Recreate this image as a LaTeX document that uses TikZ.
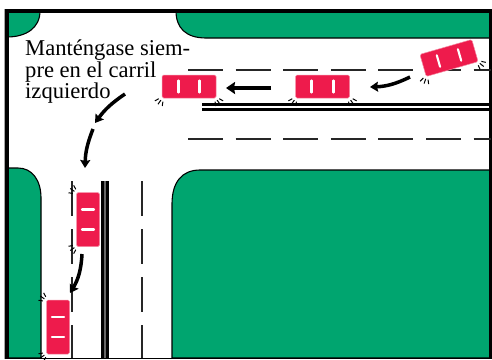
\documentclass[tikz,border=0pt]{standalone}
\usepackage{fontspec}
\setmainfont{Liberation Serif}
\usetikzlibrary{arrows.meta}
\definecolor{grass}{HTML}{00A56F}
\definecolor{carred}{HTML}{EE1B4C}
\tikzset{
  x=1pt,y=-1pt,
  grassy/.style={fill=grass,draw=black,line width=1.1pt},
  lane/.style={black!85,line width=1.4pt},
  dashv/.style={lane,dash pattern=on 35pt off 13pt},
  dashh/.style={lane,dash pattern=on 35pt off 12.6pt},
  carbody/.style={fill=carred,draw=carred!50!white,line width=.5pt,rounded corners=1.5pt,minimum width=#1,minimum height=23pt,inner sep=0pt},
  stripe/.style={white,line width=2.1pt,line cap=round},
  tick/.style={black,line width=1pt},
  move/.style={black,line width=3.5pt,-{Stealth[length=8pt,width=10pt,inset=1pt]}},
  movebig/.style={black,line width=4.5pt,-{Stealth[length=9pt,width=12pt,inset=1pt]}},
}
\newcommand{\wheelmarks}[1]{%
  \begin{scope}[rotate=#1]
    \draw[tick] (2,0) -- (7,0);
    \draw[tick] (2,2.5) -- (6,4.5);
    \draw[tick] (2,-2.5) -- (6,-4.5);
  \end{scope}}
\newcommand{\carat}[5]{% name, cx, cy, rotation, half stripe offset
  \begin{scope}[shift={(#2,#3)},rotate=#4]
    \node[carbody=54pt,rotate=#4] (#1) at (0,0) {};
    \draw[stripe] (-#5,-6) -- (-#5,6);
    \draw[stripe] (#5,-6) -- (#5,6);
    \begin{scope}[shift={(-27,12)}]\wheelmarks{-125}\end{scope}
    \begin{scope}[shift={(27,12)}]\wheelmarks{-55}\end{scope}
  \end{scope}}
\begin{document}
\begin{tikzpicture}
\useasboundingbox (0,0) rectangle (492,359);
\fill[white] (0,0) rectangle (492,359);
% grass
\draw[grassy] (7,37) -- (7,11) -- (40,11) .. controls (40,28) and (26,37) .. (7,37) -- cycle;
\draw[grassy] (176,11) -- (490,11) -- (490,38) -- (206,38) .. controls (186,38) and (176,28) .. (176,11) -- cycle;
\draw[grassy] (7,168) -- (18,168) .. controls (32,168) and (41,180) .. (41,198) -- (41,358) -- (7,358) -- cycle;
\draw[grassy] (490,170) -- (200,170) .. controls (182,170) and (172,182) .. (172,204) -- (172,358) -- (490,358) -- cycle;
% frame
\draw[black!35,line width=1pt] (4.5,9) -- (4.5,359);
\draw[black,line width=4pt] (7,359) -- (7,11) -- (490.5,11) -- (490.5,359);
\draw[black,line width=1.2pt] (5,358.4) -- (491,358.4);
% road markings
\draw[dashh] (188,70) -- (491,70);
\draw[dashh] (188,139) -- (491,139);
\draw[black,line width=3pt] (202,104.5) -- (489,104.5);
\draw[black,line width=3pt] (202,109) -- (489,109);
\draw[black!60,line width=2pt] (105,181) -- (105,358);
\draw[black,line width=3pt] (102.5,181) -- (102.5,358);
\draw[black,line width=3pt] (107.5,181) -- (107.5,358);
\draw[dashv] (72,181) -- (72,358);
\draw[dashv] (142,181) -- (142,358);
% cars
\carat{carA}{189}{86.5}{0}{10.5}
\carat{carB}{322.5}{86.5}{0}{11}
\carat{carC}{449}{58}{16}{11}
\carat{carD}{88}{219.5}{-90}{10}
\carat{carE}{58}{327}{-90}{10}
% arrows
\coordinate (a1s) at (271,88); \coordinate (a1e) at (226,88);
\coordinate (a2s) at (410,77); \coordinate (a2e) at (370,87);
\coordinate (a3s) at (125,94); \coordinate (a3e) at (95,123);
\coordinate (a4s) at (93,129); \coordinate (a4e) at (85,168);
\coordinate (a5s) at (82,254); \coordinate (a5e) at (70,293);
\draw[movebig] (a1s) -- (a1e);
\draw[move] (a2s) to[bend left=12] (a2e);
\draw[move] (a3s) to[bend right=10] (a3e);
\draw[move] (a4s) to[bend right=10] (a4e);
\draw[move] (a5s) to[bend left=14] (a5e);
% text
\node[anchor=north west,align=left,inner sep=0pt,font=\fontsize{22.6}{18.5}\selectfont] (label) at (25,40) {Manténgase siem-\\pre en el carril\\izquierdo};
\end{tikzpicture}
\end{document}
